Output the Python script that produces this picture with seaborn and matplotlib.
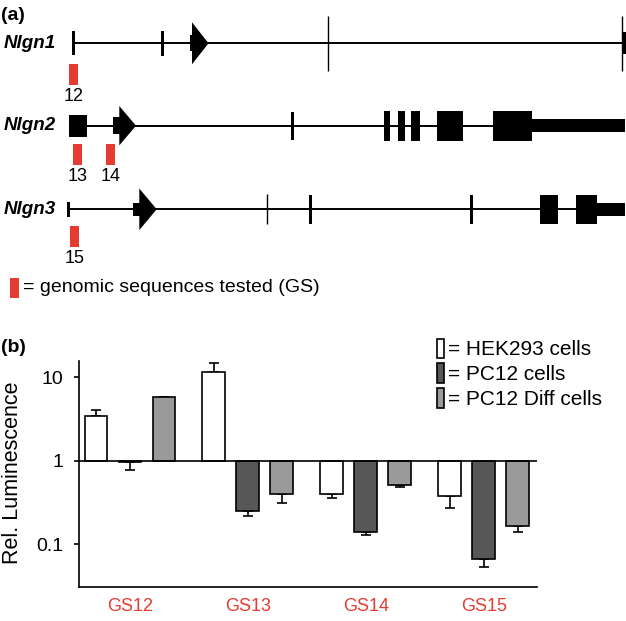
import numpy as np
import pandas as pd
import matplotlib
matplotlib.use("Agg")
import matplotlib.pyplot as plt
from matplotlib.patches import Rectangle, Polygon, Patch
import seaborn as sns

# ---- panel (a): gene models, x in drawing units along each locus
GENES = ["Nlgn1", "Nlgn2", "Nlgn3"]
GENE_SPAN = [(73, 625), (69.3, 625), (68.3, 625)]
# exon boxes: (start, end, half height)
EXONS = [
    [(72, 74.5, 12), (161, 164, 12.3), (622.3, 625.5, 11)],
    [(69.3, 86.7, 11.2), (291.3, 293.6, 14), (384.3, 390, 15), (397.7, 405.3, 15),
     (411.3, 420.3, 15), (437.3, 462.7, 15), (493.3, 532.3, 15), (532.3, 625, 6.3)],
    [(67.3, 69.5, 7.5), (309, 311.5, 14.5), (470, 472.5, 14.5), (540, 557.7, 14.7),
     (576, 596.7, 14.7), (596.7, 625, 6.3)],
]
# thin marks: (position, half height)
MARKS = [[(327.7, 27.5), (621.7, 27.5)], [], [(267.3, 15)]]
# start arrows: (utr start, arrow base, tip, utr half height, arrow half height)
ARROWS = [(189.5, 192, 208.5, 8, 21), (112.7, 119.3, 136, 8.7, 19.7),
          (132.7, 139.3, 156.7, 6.7, 20.8)]
# tested genomic sequences per gene: (number, position)
TESTED = [[("12", 73.5)], [("13", 77.3), ("14", 110.5)], [("15", 74.6)]]

# ---- panel (b): relative luminescence
GS_LABELS = ["GS12", "GS13", "GS14", "GS15"]
CELLS = ["HEK293 cells", "PC12 cells", "PC12 Diff cells"]
HEK293 = [3.46, 11.5, 0.396, 0.374]
HEK293_ERR = [0.54, 3.4, 0.039, 0.105]
PC12 = [0.96, 0.25, 0.141, 0.067]
PC12_ERR = [0.18, 0.03, 0.011, 0.013]
PC12_DIFF = [5.74, 0.395, 0.516, 0.164]
PC12_DIFF_ERR = [0.08, 0.085, 0.032, 0.023]

CELL_COLORS = ["white", "#575757", "#9a9a9a"]
RED = "#e53b30"

sns.set_style("ticks", rc={"axes.edgecolor": "black", "text.color": "black",
                           "xtick.color": "black", "ytick.color": "black",
                           "axes.labelcolor": "black"})
plt.rcParams["font.family"] = ["Liberation Sans", "DejaVu Sans"]

fig = plt.figure(figsize=(6.26, 6.21), dpi=100)

# ---------- (a)
axa = fig.add_axes([0, 0, 1, 1])
axa.set_xlim(0, 626)
axa.set_ylim(621, 0)
axa.axis("off")

row_y = [43.3, 125.7, 209.3]
box_top = [64.3, 144.3, 225.7]

for i, gene in enumerate(GENES):
    y = row_y[i]
    axa.hlines(y, *GENE_SPAN[i], color="black", lw=1.4)
    for x0, x1, h in EXONS[i]:
        axa.add_patch(Rectangle((x0, y - h), x1 - x0, 2 * h, color="black", lw=0))
    for x, h in MARKS[i]:
        axa.vlines(x, y - h, y + h, color="black", lw=1.0)
    u0, base, tip, uh, ah = ARROWS[i]
    axa.add_patch(Rectangle((u0, y - uh), base - u0 + 0.5, 2 * uh, color="black", lw=0))
    axa.add_patch(Polygon([(base, y - ah), (tip, y), (base, y + ah)], closed=True,
                          color="black", lw=0))
    axa.text(56, y, gene, ha="right", va="center", fontsize=13.5,
             fontweight="bold", fontstyle="italic")
    for num, x in TESTED[i]:
        axa.add_patch(Rectangle((x - 4.65, box_top[i]), 9.3, 21, color=RED, lw=0))
        axa.text(x, box_top[i] + 32.5, num, ha="center", va="center", fontsize=13)

axa.add_patch(Rectangle((10, 278.3), 9, 19.4, color=RED, lw=0))
axa.text(23, 288, "= genomic sequences tested (GS)", ha="left", va="center", fontsize=14)
axa.text(1, 15, "(a)", ha="left", va="center", fontsize=14, fontweight="bold")
axa.text(1, 347, "(b)", ha="left", va="center", fontsize=14, fontweight="bold")

# ---------- (b)
df = pd.DataFrame({
    "gs": GS_LABELS * 3,
    "cells": np.repeat(CELLS, len(GS_LABELS)),
    "rel": HEK293 + PC12 + PC12_DIFF,
    "err": HEK293_ERR + PC12_ERR + PC12_DIFF_ERR,
})
df["log_rel"] = np.log10(df["rel"])
whisker = np.where(df["rel"] > 1, df["rel"] + df["err"], df["rel"] - df["err"])
df["log_whisk"] = np.log10(whisker)

axb = fig.add_axes([79 / 626, 34.3 / 621, 458 / 626, 225.7 / 621])
sns.barplot(data=df, x="gs", y="log_rel", hue="cells", order=GS_LABELS,
            hue_order=CELLS, palette=CELL_COLORS, saturation=1, width=0.865,
            gap=0.324, edgecolor="black", linewidth=1.2, errorbar=None,
            legend=False, ax=axb)

for cont, cell in zip(list(axb.containers), CELLS):
    sub = df[df["cells"] == cell].set_index("gs").loc[GS_LABELS]
    xs = [p.get_x() + p.get_width() / 2 for p in cont]
    lo = np.clip(sub["log_rel"] - sub["log_whisk"], 0, None)
    hi = np.clip(sub["log_whisk"] - sub["log_rel"], 0, None)
    axb.errorbar(xs, sub["log_rel"], yerr=[lo, hi], fmt="none", ecolor="black",
                 elinewidth=1.2, capsize=3.6, capthick=1.2, zorder=0.5)

axb.axhline(0, color="black", lw=1.2, zorder=3)
axb.set_xlim(-0.4326, 3.452)
axb.set_ylim(-1.509, 1.194)
axb.set_yticks([-1, 0, 1])
axb.set_yticklabels(["0.1", "1", "10"])
axb.set_xlabel("")
axb.set_ylabel("Rel. Luminescence", fontsize=15.5)
axb.yaxis.set_label_coords(-0.123, 0.506)
axb.tick_params(axis="y", length=3.6, width=1.2, labelsize=14, pad=7.5)
axb.tick_params(axis="x", length=0, labelsize=13, labelcolor=RED, pad=8)
for s in ["left", "bottom"]:
    axb.spines[s].set_linewidth(1.2)
sns.despine(ax=axb)

handles = [Patch(facecolor=c, edgecolor="black", lw=1.2) for c in CELL_COLORS]
fig.legend(handles, ["= " + c for c in CELLS], loc="upper left",
           bbox_to_anchor=(437.3 / 626, 1 - 338.5 / 621), frameon=False,
           fontsize=15, handlelength=0.3, handleheight=1.05, handletextpad=0.2,
           labelspacing=0.2, borderpad=0, borderaxespad=0)

fig.savefig("out.png", dpi=100)
